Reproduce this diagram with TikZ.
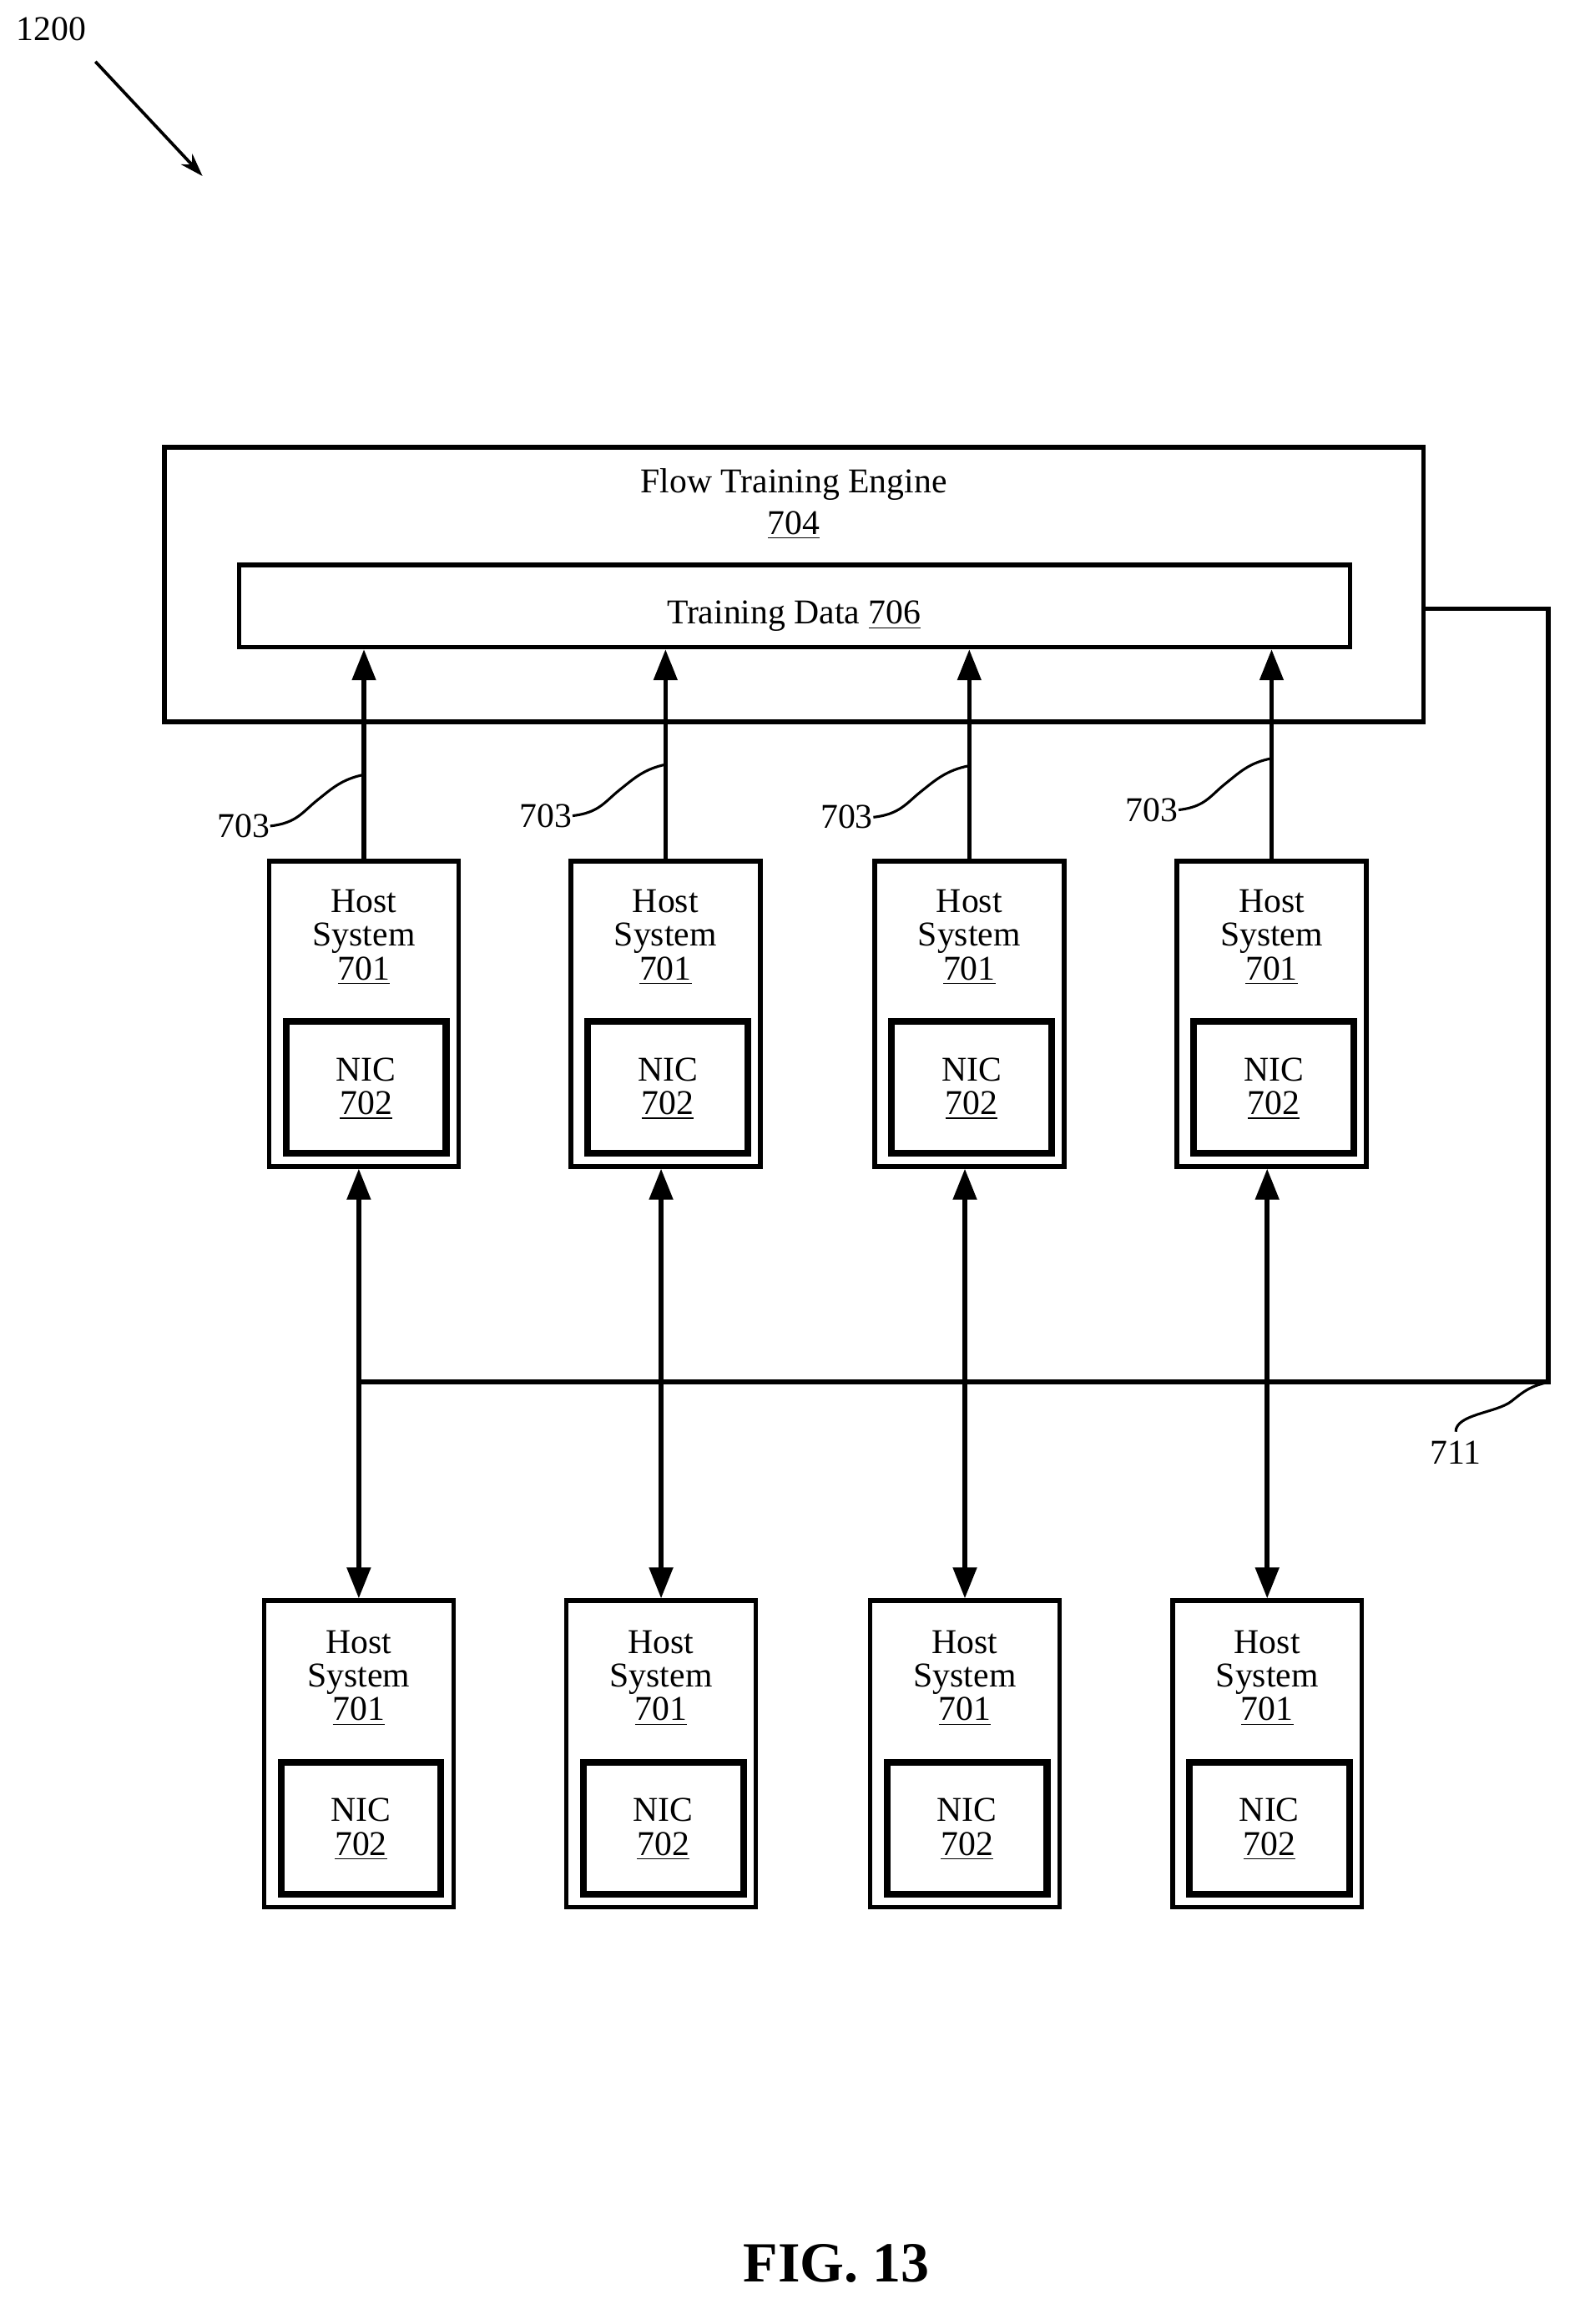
\documentclass[tikz,border=0pt]{standalone}
\usepackage{fontspec}
\setmainfont{Liberation Serif}
\usetikzlibrary{arrows.meta,calc}
\begin{document}
\begin{tikzpicture}[x=0.02cm,y=-0.02cm,
  box/.style={draw,line width=1.8pt,inner sep=0pt},
  txt/.style={font=\fontsize{13.5}{16}\selectfont,inner sep=0pt},
  ln/.style={line width=1.8pt},
  arr/.style={ln,-{Triangle[length=12pt,width=9pt]}},
  darr/.style={ln,{Triangle[length=12pt,width=9pt]}-{Triangle[length=12pt,width=9pt]}},
  sq/.style={line width=1pt}]
\useasboundingbox (0,0) rectangle (1080,1584);
\node[txt] (lbl) at (35,20) {1200};
\coordinate (a1) at (65,42); \coordinate (a2) at (138,120);
\draw[line width=1.2pt,-{Stealth[length=9pt,width=6pt]}] (a1) -- (a2);
\node[box,minimum width=858*0.02cm,minimum height=187*0.02cm] (fte) at (541,398.5) {};
\node[txt] (ftet) at (541,330) {Flow Training Engine};
\node[txt] (ften) at (541,358) {\underline{704}};
\node[box,minimum width=757*0.02cm,minimum height=56*0.02cm] (td) at (541.5,413) {};
\node[txt] (tdt) at (541,420) {Training Data \underline{706}};
\foreach \i/\x in {1/248,2/453.5,3/660.5,4/866.5}{
  \node[box,minimum width=129*0.02cm,minimum height=208*0.02cm] (hu\i) at (\x,691) {};
  \node[txt,align=center] (hut\i) at (\x,639) {Host\\[-3pt]System\\[-3pt]\underline{701}};
  \node[box,line width=2.6pt,minimum width=109*0.02cm,minimum height=90*0.02cm] (nu\i) at (\x+1.5,741) {};
  \node[txt,align=center] (nut\i) at (\x+1.5,742) {NIC\\[-3pt]\underline{702}};
  \draw[arr] (hu\i.north) -- (hu\i.north |- td.south);
}
\foreach \i/\x in {1/244.5,2/450.5,3/657.5,4/863.5}{
  \node[box,minimum width=129*0.02cm,minimum height=209*0.02cm] (hl\i) at (\x,1195.5) {};
  \node[txt,align=center] (hlt\i) at (\x,1144) {Host\\[-3pt]System\\[-3pt]\underline{701}};
  \node[box,line width=2.6pt,minimum width=109*0.02cm,minimum height=90*0.02cm] (nl\i) at (\x+1.5,1246) {};
  \node[txt,align=center] (nlt\i) at (\x+1.5,1247) {NIC\\[-3pt]\underline{702}};
  \draw[darr] (hu\i.south -| hl\i.north) -- (hl\i.north);
}
\coordinate (b1) at (244,942); \coordinate (b2) at (1055,942);
\coordinate (b3) at (1055,415);
\draw[ln] (b1) -- (b2) -- (b3) -- (b3 -| fte.east);
% 703 labels
\foreach \i/\x/\lx/\ly in {1/248/166/563,2/454/372/556,3/660/577/557,4/866/785/552}{
  \node[txt] (l\i) at (\lx,\ly) {703};
  \coordinate (e\i) at (\x,\ly-35);
  \coordinate (m\i) at ($(l\i.east)!0.5!(e\i)$);
  \draw[sq] (l\i.east) .. controls +(18,-2) and +(-10,8) .. (m\i) .. controls +(10,-8) and +(-15,3) .. (e\i);
}
\node[txt] (l711) at (992,990) {711};
\coordinate (q1) at (1030,955);
\draw[sq] ($(l711.north)+(0,-6)$) .. controls +(0,-12) and +(-10,8) .. (q1) .. controls +(10,-8) and +(-12,3) .. (b2);
\node[font=\bfseries\fontsize{22}{26}\selectfont,inner sep=0pt] (fig) at (570,1543) {FIG. 13};
\end{tikzpicture}
\end{document}
